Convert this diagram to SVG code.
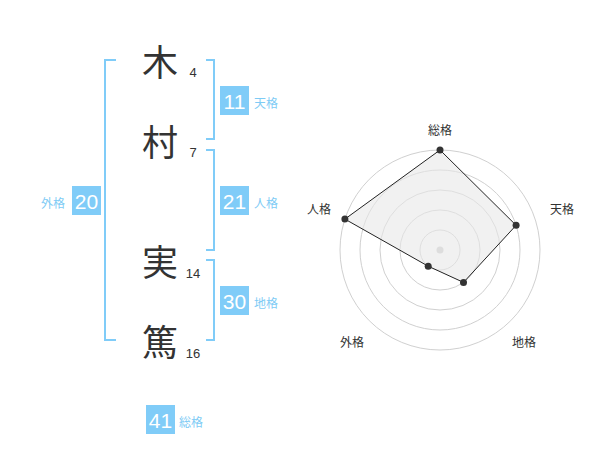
<svg xmlns="http://www.w3.org/2000/svg" width="600" height="470" viewBox="0 0 600 470">
<style>
.kanji{font-family:"Noto Sans CJK JP","Noto Sans CJK SC",sans-serif;font-size:36px;fill:#333;text-anchor:middle}
.num{font-family:"Liberation Sans",Arial,sans-serif;font-size:13px;fill:#333;text-anchor:middle}
.box{fill:#80ccf8}
.boxt{font-family:"Liberation Sans",Arial,sans-serif;font-size:21px;fill:#fff;text-anchor:middle}
.lab{font-family:"Noto Sans CJK JP",sans-serif;font-size:12px;fill:#7ecbf5}
.br{fill:none;stroke:#80ccf8;stroke-width:2}
.ring{fill:none;stroke:#d0d0d0;stroke-width:1}
.rl{font-family:"Noto Sans CJK JP",sans-serif;font-size:12px;fill:#333;text-anchor:middle}
.dot{fill:#333}
</style>
<rect width="600" height="470" fill="#fff"/>
<g id="connectors">
<path class="br" d="M116,60 H105 V340 H116"/>
<path class="br" d="M206,60 H214 V139 H206"/>
<path class="br" d="M206,150 H214 V250 H206"/>
<path class="br" d="M206,260 H214 V340 H206"/>
</g>
<g id="char-1"><text class="kanji" x="160" y="76">木</text><text class="num" x="193" y="77">4</text></g>
<g id="char-2"><text class="kanji" x="160" y="156">村</text><text class="num" x="193" y="157">7</text></g>
<g id="char-3"><text class="kanji" x="160" y="276">実</text><text class="num" x="193" y="278">14</text></g>
<g id="char-4"><text class="kanji" x="160" y="356">篤</text><text class="num" x="193" y="358">16</text></g>
<g id="tenkaku"><rect class="box" x="220" y="86" width="29" height="29"/><text class="boxt" x="234.5" y="108.5">11</text><text class="lab" x="254" y="108">天格</text></g>
<g id="jinkaku"><rect class="box" x="220" y="186" width="29" height="29"/><text class="boxt" x="234.5" y="208.5">21</text><text class="lab" x="254" y="208">人格</text></g>
<g id="chikaku"><rect class="box" x="220" y="286" width="29" height="29"/><text class="boxt" x="234.5" y="308.5">30</text><text class="lab" x="254" y="308">地格</text></g>
<g id="gaikaku"><rect class="box" x="72" y="186" width="29" height="29"/><text class="boxt" x="86.5" y="208.5">20</text><text class="lab" x="41" y="208">外格</text></g>
<g id="soukaku"><rect class="box" x="146" y="405" width="29" height="29"/><text class="boxt" x="160.5" y="427.5">41</text><text class="lab" x="179" y="427">総格</text></g>
<g id="radar">
<circle class="ring" cx="440" cy="250" r="20"/>
<circle class="ring" cx="440" cy="250" r="40"/>
<circle class="ring" cx="440" cy="250" r="60"/>
<circle class="ring" cx="440" cy="250" r="80"/>
<circle class="ring" cx="440" cy="250" r="100"/>
<circle cx="440" cy="250" r="3.5" fill="#ccc"/>
<polygon points="440,150 516.1,225.3 463.5,282.4 428.2,266.2 344.9,219.1" fill="#e8e8e8" fill-opacity="0.6" stroke="#222" stroke-width="1"/>
<circle class="dot" cx="440" cy="150" r="3.5"/>
<circle class="dot" cx="516.1" cy="225.3" r="3.5"/>
<circle class="dot" cx="463.5" cy="282.4" r="3.5"/>
<circle class="dot" cx="428.2" cy="266.2" r="3.5"/>
<circle class="dot" cx="344.9" cy="219.1" r="3.5"/>
<text class="rl" x="440" y="135">総格</text>
<text class="rl" x="562" y="214">天格</text>
<text class="rl" x="319" y="214">人格</text>
<text class="rl" x="352" y="347">外格</text>
<text class="rl" x="524" y="347">地格</text>
</g>
</svg>
